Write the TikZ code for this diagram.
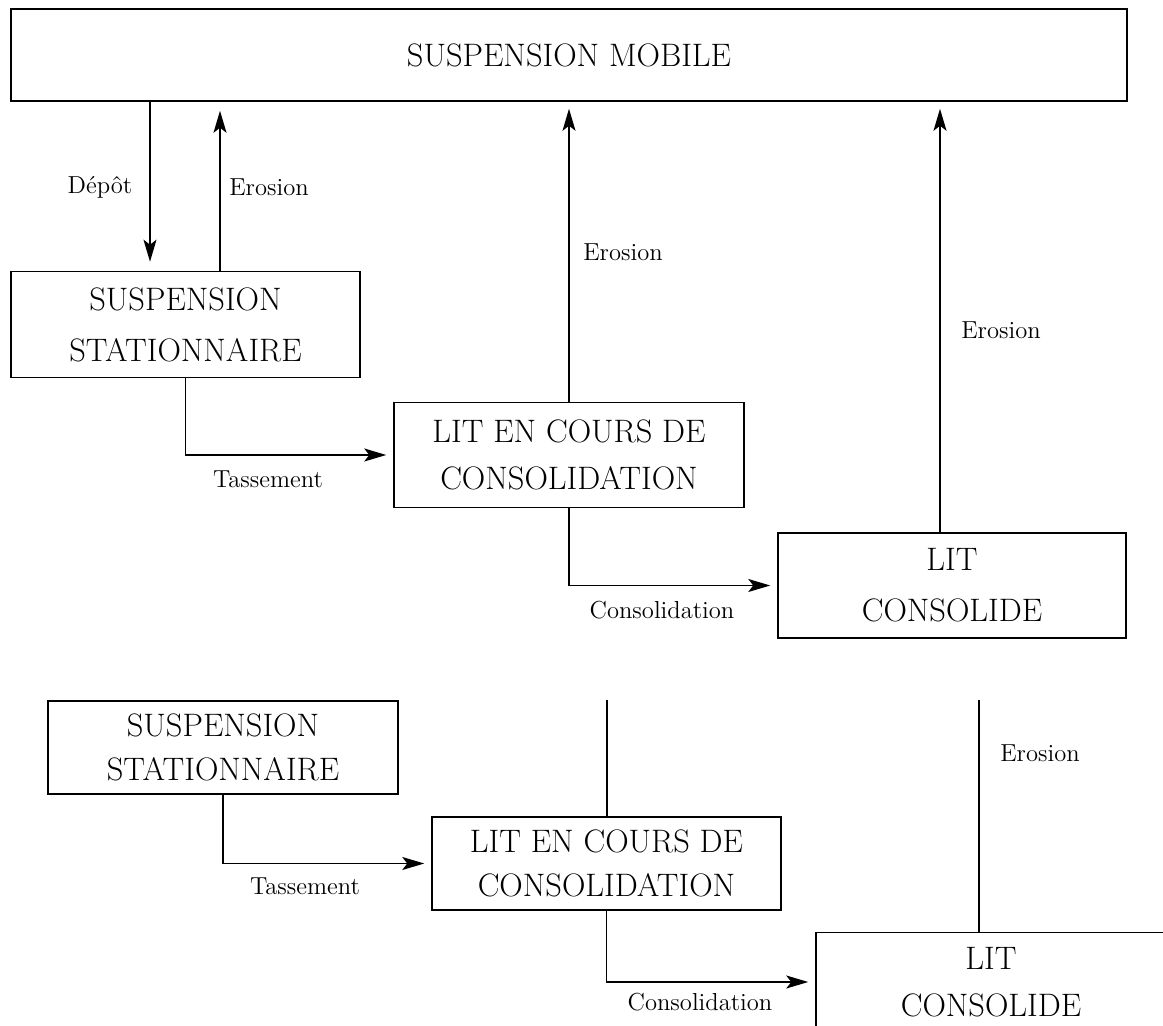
\documentclass[tikz,border=0pt]{standalone}
\usepackage{amssymb}
\usepackage{amsmath}
\usepackage{tikz}
\usetikzlibrary{arrows.meta}

\begin{document}
\begin{tikzpicture}[x=0.02cm,y=-0.02cm,line width=0.9pt,
	boite/.style={draw,inner sep=0pt,align=center,font=\fontsize{18.5}{29}\selectfont},
	etiq/.style={inner sep=0pt,font=\fontsize{14}{16}\selectfont},
	fleche/.style={-{Stealth[length=0.44cm,width=0.26cm,inset=0.1cm]}}]
			\useasboundingbox (0,0) rectangle (1163,1026);
			\node[boite,minimum width=22.32cm,minimum height=1.84cm] (mobile) at (569,55) {SUSPENSION MOBILE};
			\node[boite,minimum width=6.98cm,minimum height=2.12cm] (susp1) at (185.5,324.5) {SUSPENSION\\STATIONNAIRE};
			\node[boite,minimum width=7.00cm,minimum height=2.10cm] (litc1) at (569,455) {LIT EN COURS DE\\[-2pt]CONSOLIDATION};
			\node[boite,minimum width=6.96cm,minimum height=2.10cm] (lit1) at (952,585.5) {LIT\\CONSOLIDE};
			\node[boite,minimum width=7.00cm,minimum height=1.86cm] (susp2) at (223,747.5) {SUSPENSION\\[-4pt]STATIONNAIRE};
			\node[boite,minimum width=6.98cm,minimum height=1.86cm] (litc2) at (606.5,863.5) {LIT EN COURS DE\\[-4pt]CONSOLIDATION};
			\node[boite,minimum width=7.00cm,minimum height=1.98cm] (lit2) at (991,982) {LIT\\[-2pt]CONSOLIDE};
			\coordinate (xdep) at (150,0);
			\coordinate (xer1) at (220,0);
			\coordinate (xer3) at (940,0);
			\coordinate (haut1) at (607,700);
			\coordinate (haut2) at (979,700);
			\draw[fleche,shorten >=0.18cm] (xdep |- mobile.south) -- (xdep |- susp1.north);
			\draw[fleche,shorten >=0.18cm] (xer1 |- susp1.north) -- (xer1 |- mobile.south);
			\draw[fleche,shorten >=0.14cm] (litc1.north) -- (litc1.north |- mobile.south);
			\draw[fleche,shorten >=0.14cm] (xer3 |- lit1.north) -- (xer3 |- mobile.south);
			\draw[fleche,shorten >=0.14cm] (susp1.south) |- (litc1.west);
			\draw[fleche,shorten >=0.14cm] (litc1.south) |- (lit1.west);
			\draw[fleche,shorten >=0.14cm] (susp2.south) |- (litc2.west);
			\draw[fleche,shorten >=0.14cm] (litc2.south) |- (lit2.west);
			\draw (haut1) -- (haut1 |- litc2.north);
			\draw (haut2) -- (haut2 |- lit2.north);
			\node[etiq] (depot) at (100,187) {Dépôt};
			\node[etiq] (eros1) at (269,187) {Erosion};
			\node[etiq] (eros2) at (623,252) {Erosion};
			\node[etiq] (eros3) at (1001,330) {Erosion};
			\node[etiq] (eros4) at (1040,753) {Erosion};
			\node[etiq] (tass1) at (268,479) {Tassement};
			\node[etiq] (tass2) at (305,886) {Tassement};
			\node[etiq] (cons1) at (662,610) {Consolidation};
			\node[etiq] (cons2) at (700,1002) {Consolidation};
			\end{tikzpicture}
\end{document}
